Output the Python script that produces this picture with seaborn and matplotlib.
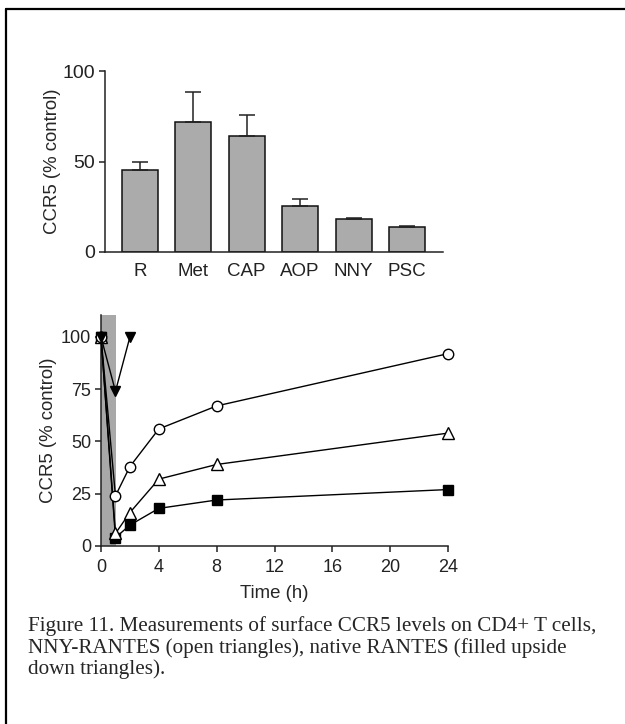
import numpy as np
import pandas as pd
import matplotlib
matplotlib.use("Agg")
import matplotlib.pyplot as plt
import seaborn as sns
from matplotlib.lines import Line2D

# ---- data ----
bar_labels = ["R", "Met", "CAP", "AOP", "NNY", "PSC"]
bar_means = [45.5, 72, 64, 25.5, 18.3, 13.9]
bar_err = [4, 16.5, 11.5, 4, 0.7, 0.4]

time_h = [0, 1, 2, 4, 8, 24]
open_circles = [100, 24, 38, 56, 67, 92]
open_triangles = [100, 6, 16, 32, 39, 54]
filled_squares = [100, 4, 10, 18, 22, 27]
native_time = [0, 1, 2]
native_rantes = [100, 74, 100]

bar_yticks = [0, 50, 100]
line_yticks = [0, 25, 50, 75, 100]
line_xticks = [0, 4, 8, 12, 16, 20, 24]

caption_lines = [
    "Figure 11. Measurements of surface CCR5 levels on CD4+ T cells,",
    "NNY-RANTES (open triangles), native RANTES (filled upside",
    "down triangles).",
]

sns.set_style("ticks")
plt.rcParams['font.family'] = ['Liberation Sans', 'DejaVu Sans']
plt.rcParams['axes.linewidth'] = 1.1
plt.rcParams['xtick.major.width'] = 1.1
plt.rcParams['ytick.major.width'] = 1.1
plt.rcParams['xtick.major.size'] = 4
plt.rcParams['ytick.major.size'] = 4
plt.rcParams['xtick.color'] = '#222222'
plt.rcParams['ytick.color'] = '#222222'
plt.rcParams['axes.edgecolor'] = '#222222'

W, H = 625, 724
fig = plt.figure(figsize=(W / 100, H / 100), dpi=100)
fig.patch.set_facecolor('white')

def ax_rect(x0, x1, ytop, ybot):
    return [x0 / W, 1 - ybot / H, (x1 - x0) / W, (ybot - ytop) / H]

# ---- bar chart ----
ax1 = fig.add_axes(ax_rect(105, 443, 71, 252))
df_bar = pd.DataFrame({"treat": bar_labels, "val": bar_means})
sns.barplot(data=df_bar, x="treat", y="val", color="#ababab", width=0.67,
            edgecolor="#111111", linewidth=1.1, saturation=1, ax=ax1, errorbar=None)
ax1.errorbar(np.arange(len(bar_labels)), bar_means, yerr=[np.zeros(len(bar_err)), bar_err],
             fmt='none', ecolor='#222222', elinewidth=1.1, capsize=6, capthick=1.1, zorder=1)
ax1.set_xlim(-0.65, 5.67)
ax1.set_ylim(0, 100)
ax1.set_yticks(bar_yticks)
ax1.tick_params(axis='x', length=0, pad=8, labelsize=13.5)
ax1.tick_params(axis='y', labelsize=14, pad=3)
ax1.set_xlabel("")
ax1.set_ylabel("CCR5 (% control)", fontsize=13.4, labelpad=1)
sns.despine(ax=ax1)

# ---- time course ----
ax2 = fig.add_axes(ax_rect(101, 448, 315, 546))
ax2.axvspan(0, 1.05, color="#a8a8a8", zorder=0, lw=0)
df_line = pd.concat([
    pd.DataFrame({"t": time_h, "v": open_circles, "s": "circ"}),
    pd.DataFrame({"t": time_h, "v": open_triangles, "s": "tri"}),
    pd.DataFrame({"t": time_h, "v": filled_squares, "s": "sq"}),
    pd.DataFrame({"t": native_time, "v": native_rantes, "s": "nat"}),
])
styles = {
    "circ": dict(marker='o', mfc='white', ms=7.5),
    "tri": dict(marker='^', mfc='white', ms=8),
    "sq": dict(marker='s', mfc='black', ms=6.5),
    "nat": dict(marker='v', mfc='black', ms=7.5),
}
for key in ["sq", "tri", "circ", "nat"]:
    sub = df_line[df_line.s == key]
    sns.lineplot(data=sub, x="t", y="v", ax=ax2, color='black', lw=1.0,
                 marker=styles[key]['marker'], markersize=styles[key]['ms'],
                 markerfacecolor=styles[key]['mfc'], markeredgecolor='black',
                 markeredgewidth=1.0, clip_on=False, zorder=3)
ax2.set_xlim(0, 24)
ax2.set_ylim(0, 110.5)
ax2.set_xticks(line_xticks)
ax2.set_yticks(line_yticks)
ax2.tick_params(axis='y', labelsize=13, pad=3)
ax2.tick_params(axis='x', labelsize=13, pad=5)
ax2.set_xlabel("Time (h)", fontsize=13.4, labelpad=7)
ax2.set_ylabel("CCR5 (% control)", fontsize=13.4, labelpad=3)
sns.despine(ax=ax2)

# ---- caption ----
for i, line in enumerate(caption_lines):
    fig.text(28 / W, 1 - (631 + 21.5 * i) / H, line, fontsize=15.2,
             family=['Liberation Serif', 'DejaVu Serif'], va='baseline', ha='left')

# ---- frame (top & left) ----
fig.add_artist(Line2D([6 / W, 6 / W], [0, 1 - 9 / H], transform=fig.transFigure, color='black', lw=1.6))
fig.add_artist(Line2D([6 / W, 1], [1 - 9 / H, 1 - 9 / H], transform=fig.transFigure, color='black', lw=1.6))

fig.savefig("out.png", dpi=100)
